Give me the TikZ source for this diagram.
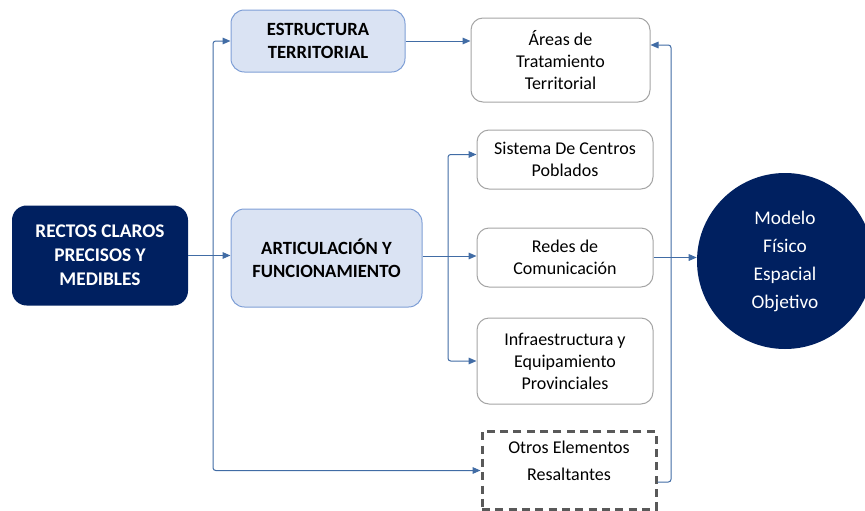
\documentclass[tikz,border=0pt]{standalone}
\usepackage{fontspec}
\setmainfont{Carlito}
\usetikzlibrary{arrows.meta}
\usetikzlibrary{positioning}
\usetikzlibrary{calc}
\definecolor{mnavy}{RGB}{0, 32, 96}
\definecolor{mpale}{RGB}{218, 227, 243}
\definecolor{medge}{RGB}{127, 159, 214}
\definecolor{mline}{RGB}{65, 108, 165}
\definecolor{mgrey}{RGB}{165, 165, 165}
\definecolor{mdash}{RGB}{89, 89, 89}
\tikzset{box/.style = {draw = mgrey, line width = 0.75pt, rounded corners = 9pt, align = center, inner sep = 0,
    minimum width = 132pt, font = \fontsize{13.5}{16.5}\selectfont}}
\tikzset{hdrbox/.style = {draw = medge, fill = mpale, line width = 0.75pt, rounded corners = 10pt, align = center,
    inner sep = 0, font = \fontsize{14}{17.5}\selectfont\bfseries}}
\tikzset{navybox/.style = {fill = mnavy, text = white, rounded corners = 11pt, align = center, inner sep = 0,
    minimum width = 132pt, minimum height = 75pt, font = \fontsize{14.5}{18}\selectfont\bfseries}}
\tikzset{dashbox/.style = {draw = mdash, line width = 2.25pt, dash pattern = on 6pt off 4pt, align = center,
    inner sep = 0, minimum width = 130.5pt, minimum height = 58.5pt, text depth = 14.5pt,
    font = \fontsize{13.5}{20}\selectfont}}
\tikzset{goal/.style = {circle, fill = mnavy, text = white, align = center, inner sep = 0, minimum size = 132pt,
    font = \fontsize{14.5}{21}\selectfont}}
\tikzset{conn/.style = {draw = mline, line width = 0.75pt, rounded corners = 2pt,
    -{Triangle[length = 6pt, width = 5pt]}}}

\begin{document}
\begin{tikzpicture}[x = 0.75pt, y = -0.75pt]
      \useasboundingbox (0, 0) rectangle (865, 511);
      \clip (0, 0) rectangle (865, 511);

      % left column
      \node [navybox] (rectos) at (100, 255.5) {RECTOS CLAROS\\PRECISOS Y\\MEDIBLES};
      \node [hdrbox, minimum width = 130.5pt, minimum height = 46.5pt] (estructura) at (318, 41) {ESTRUCTURA\\TERRITORIAL};
      \node [hdrbox, minimum width = 143.25pt, minimum height = 73.5pt] (articul) at (326.5, 258) {ARTICULACIÓN Y\\FUNCIONAMIENTO};

      % right column
      \node [box, minimum width = 134.25pt, minimum height = 63pt] (areas) at (560.5, 60) {Áreas de\\Tratamiento\\Territorial};
      \node [box, minimum height = 44.25pt] (sistema) at (565, 159.5) {Sistema De Centros\\Poblados};
      \node [box, minimum height = 44.25pt] (redes) at (565, 257.5) {Redes de\\Comunicación};
      \node [box, minimum height = 64.5pt] (infra) at (565, 361) {Infraestructura y\\Equipamiento\\Provinciales};
      \node [dashbox] (otros) at (569, 470.5) {Otros Elementos\\Resaltantes};
      \node [goal] (modelo) at (785, 261) {Modelo\\Físico\\Espacial\\Objetivo};

      \coordinate (split) at (213, 255.5);
      \coordinate (fork) at (448, 256);
      \coordinate (ret) at (671, 482);

      \draw [conn] (rectos.east) -- (rectos.east -| articul.west);
      \draw [conn] (split) |- (estructura.west);
      \draw [conn] (split) |- (otros.west);
      \draw [conn] (estructura.east) -- (estructura.east -| areas.west);

      \draw [conn] (articul.east |- fork) -- (fork -| redes.west);
      \draw [conn] (fork) |- ($(sistema.west) + (0, -5)$);
      \draw [conn] (fork) |- (infra.west);

      \draw [conn] (redes.east) -- (redes.east -| modelo.west);
      \draw [conn] (otros.east |- ret) -- (ret) |- ($(areas.east) + (0, -15)$);
    \end{tikzpicture}
\end{document}
